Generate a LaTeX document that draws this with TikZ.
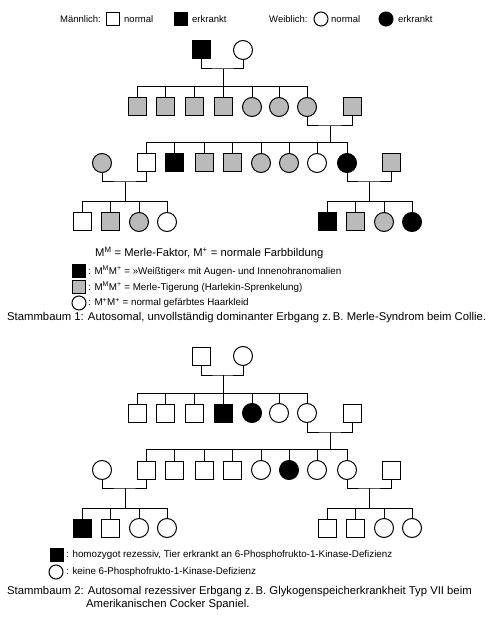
\documentclass[tikz,border=0pt]{standalone}
\usepackage{fontspec}
\setmainfont{Liberation Sans}
\begin{document}
\begin{tikzpicture}[x=1pt,y=-1pt,
  lw/.style={line width=1pt},
  male/.style={draw,lw,rectangle,minimum size=18pt,inner sep=0pt},
  fem/.style={draw,lw,circle,minimum size=19pt,inner sep=0pt},
  lmale/.style={draw,lw,rectangle,minimum size=13.5pt,inner sep=0pt},
  lfem/.style={draw,lw,circle,minimum size=14pt,inner sep=0pt},
  aff/.style={fill=black},
  car/.style={fill=black!27},
  txt/.style={inner sep=0pt,anchor=west},
  con/.style={lw}]
\useasboundingbox (0,0) rectangle (500,617);
% top legend
\node[txt,font=\fontsize{9.5}{11}\selectfont] (tM) at (60,19) {Männlich:};
\node[lmale] (lm1) at (113,19) {};
\node[txt,font=\fontsize{9.5}{11}\selectfont] (tM1) at (124,19) {normal};
\node[lmale,aff] (lm2) at (181,19) {};
\node[txt,font=\fontsize{9.5}{11}\selectfont] (tM2) at (192,19) {erkrankt};
\node[txt,font=\fontsize{9.5}{11}\selectfont] (tW) at (269,19) {Weiblich:};
\node[lfem] (lf1) at (321,19) {};
\node[txt,font=\fontsize{9.5}{11}\selectfont] (tW1) at (331,19) {normal};
\node[lfem,aff] (lf2) at (386,19) {};
\node[txt,font=\fontsize{9.5}{11}\selectfont] (tW2) at (398,19) {erkrankt};

% ---------- Pedigree 1 ----------
\node[male,aff] (A1) at (201,50) {};
\node[fem] (A2) at (243,50) {};
\node[male,car] (B1) at (137,107) {};
\node[male,car] (B2) at (165,107) {};
\node[male,car] (B3) at (194,107) {};
\node[male,car] (B4) at (223,107) {};
\node[fem,car] (B5) at (252,107) {};
\node[fem,car] (B6) at (279,107) {};
\node[fem,car] (B7) at (307,107) {};
\node[male,car] (B8) at (352,107) {};
\node[fem,car] (C0) at (102,163) {};
\node[male] (C1) at (146,163) {};
\node[male,aff] (C2) at (174,163) {};
\node[male,car] (C3) at (204,163) {};
\node[male,car] (C4) at (232,163) {};
\node[fem,car] (C5) at (261,163) {};
\node[fem,car] (C6) at (289,163) {};
\node[fem] (C7) at (317,163) {};
\node[fem,aff] (C8) at (347,163) {};
\node[male,car] (C9) at (391,163) {};
\node[male] (D1) at (82,222) {};
\node[male,car] (D2) at (110,222) {};
\node[fem,car] (D3) at (139,222) {};
\node[fem] (D4) at (167,222) {};
\node[male,aff] (D5) at (327,222) {};
\node[male,car] (D6) at (355,222) {};
\node[fem,car] (D7) at (384,222) {};
\node[fem,aff] (D8) at (412,222) {};
\coordinate (m1) at (223,69); \coordinate (s1) at (223,87);
\coordinate (m2) at (330,126); \coordinate (s2) at (330,143);
\coordinate (m3) at (125,182); \coordinate (s3) at (125,202);
\coordinate (m4) at (369,182); \coordinate (s4) at (369,202);
\draw[con] (A1.south) |- (m1) -| (A2.south);
\draw[con] (m1) -- (s1);
\foreach \c in {B1,B2,B3,B4,B5,B6,B7} \draw[con] (s1) -| (\c.north);
\draw[con] (B7.south) |- (m2) -| (B8.south);
\draw[con] (m2) -- (s2);
\foreach \c in {C1,C2,C3,C4,C5,C6,C7,C8} \draw[con] (s2) -| (\c.north);
\draw[con] (C0.south) |- (m3) -| (C1.south);
\draw[con] (m3) -- (s3);
\foreach \c in {D1,D2,D3,D4} \draw[con] (s3) -| (\c.north);
\draw[con] (C8.south) |- (m4) -| (C9.south);
\draw[con] (m4) -- (s4);
\foreach \c in {D5,D6,D7,D8} \draw[con] (s4) -| (\c.north);

% legend 1
\node[txt,font=\fontsize{11.2}{13}\selectfont] (L0) at (95,253) {M\textsuperscript{M} = Merle-Faktor, M\textsuperscript{+} = normale Farbbildung};
\node[lmale,aff] (L1s) at (79,271) {};
\node[txt,font=\fontsize{9.8}{11}\selectfont] (L1) at (88,271) {: M\textsuperscript{M}M\textsuperscript{+} = »Weißtiger« mit Augen- und Innenohranomalien};
\node[lmale,car] (L2s) at (79,287) {};
\node[txt,font=\fontsize{9.8}{11}\selectfont] (L2) at (88,287) {: M\textsuperscript{M}M\textsuperscript{+} = Merle-Tigerung (Harlekin-Sprenkelung)};
\node[lfem] (L3s) at (79,303) {};
\node[txt,font=\fontsize{9.8}{11}\selectfont] (L3) at (88,303) {: M\textsuperscript{+}M\textsuperscript{+} = normal gefärbtes Haarkleid};
\node[txt,font=\fontsize{11.3}{13}\selectfont] (cap1) at (7,318) {Stammbaum 1: Autosomal, unvollständig dominanter Erbgang z.\,B. Merle-Syndrom beim Collie.};

% ---------- Pedigree 2 ----------
\begin{scope}[yshift=-306pt]
\node[male] (E1) at (201,50) {};
\node[fem] (E2) at (243,50) {};
\node[male] (F1) at (137,107) {};
\node[male] (F2) at (165,107) {};
\node[male] (F3) at (194,107) {};
\node[male,aff] (F4) at (223,107) {};
\node[fem,aff] (F5) at (252,107) {};
\node[fem] (F6) at (279,107) {};
\node[fem] (F7) at (307,107) {};
\node[male] (F8) at (352,107) {};
\node[fem] (G0) at (102,164) {};
\node[male] (G1) at (146,164) {};
\node[male] (G2) at (174,164) {};
\node[male] (G3) at (204,164) {};
\node[male] (G4) at (232,164) {};
\node[fem] (G5) at (261,164) {};
\node[fem,aff] (G6) at (289,164) {};
\node[fem] (G7) at (317,164) {};
\node[fem] (G8) at (347,164) {};
\node[male] (G9) at (391,164) {};
\node[male,aff] (H1) at (82,222) {};
\node[male] (H2) at (110,222) {};
\node[fem] (H3) at (139,222) {};
\node[fem] (H4) at (167,222) {};
\node[male] (H5) at (327,222) {};
\node[male] (H6) at (355,222) {};
\node[fem] (H7) at (384,222) {};
\node[fem] (H8) at (412,222) {};
\coordinate (n1) at (223,69); \coordinate (t1) at (223,87);
\coordinate (n2) at (330,126); \coordinate (t2) at (330,143);
\coordinate (n3) at (125,182); \coordinate (t3) at (125,202);
\coordinate (n4) at (369,182); \coordinate (t4) at (369,202);
\end{scope}
\draw[con] (E1.south) |- (n1) -| (E2.south);
\draw[con] (n1) -- (t1);
\foreach \c in {F1,F2,F3,F4,F5,F6,F7} \draw[con] (t1) -| (\c.north);
\draw[con] (F7.south) |- (n2) -| (F8.south);
\draw[con] (n2) -- (t2);
\foreach \c in {G1,G2,G3,G4,G5,G6,G7,G8} \draw[con] (t2) -| (\c.north);
\draw[con] (G0.south) |- (n3) -| (G1.south);
\draw[con] (n3) -- (t3);
\foreach \c in {H1,H2,H3,H4} \draw[con] (t3) -| (\c.north);
\draw[con] (G8.south) |- (n4) -| (G9.south);
\draw[con] (n4) -- (t4);
\foreach \c in {H5,H6,H7,H8} \draw[con] (t4) -| (\c.north);

% legend 2
\node[lmale,aff] (K1s) at (57,555) {};
\node[txt,font=\fontsize{9.8}{11}\selectfont] (K1) at (66,555) {: homozygot rezessiv, Tier erkrankt an 6-Phosphofrukto-1-Kinase-Defizienz};
\node[lfem] (K2s) at (56,572) {};
\node[txt,font=\fontsize{9.8}{11}\selectfont] (K2) at (66,572) {: keine 6-Phosphofrukto-1-Kinase-Defizienz};
\node[txt,font=\fontsize{11.3}{13}\selectfont] (cap2a) at (7,592) {Stammbaum 2: Autosomal rezessiver Erbgang z.\,B. Glykogenspeicherkrankheit Typ VII beim};
\node[txt,font=\fontsize{11.3}{13}\selectfont] (cap2b) at (86,605) {Amerikanischen Cocker Spaniel.};
\end{tikzpicture}
\end{document}
